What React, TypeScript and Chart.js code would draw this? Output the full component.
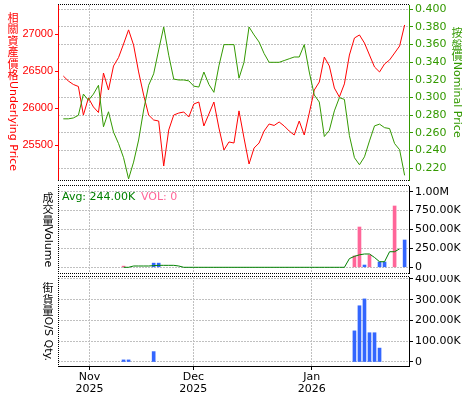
import React, { useEffect, useRef } from 'react';
import { Chart, registerables } from 'chart.js';

Chart.register(...registerables);

// ---------- data ----------
const monthTickIndex = [5.2, 25.9, 49.5];
const monthLabels = [['Nov', '2025'], ['Dec', '2025'], ['Jan', '2026']];

const underlyingPrice = [
  26436, 26369, 26322, 26295, 25909, 26139, 26018, 25943, 26477, 26247,
  26572, 26686, 26869, 27060, 26855, 26491, 26180, 25909, 25842, 25828,
  25220, 25707, 25909, 25936, 25950, 25882, 26058, 26085, 25761, 25923,
  26085, 25734, 25436, 25545, 25531, 25965, 25599, 25247, 25463, 25531,
  25693, 25788, 25768, 25815, 25761, 25693, 25639, 25828, 25639, 25936,
  26247, 26355, 26693, 26572, 26274, 26153, 26330, 26720, 26950, 26991,
  26882, 26720, 26558, 26491, 26599, 26653, 26747, 26842, 27126,
];

const nominalPrice = [
  0.276, 0.276, 0.277, 0.280, 0.304, 0.297, 0.304, 0.314, 0.267, 0.284,
  0.261, 0.248, 0.232, 0.208, 0.227, 0.252, 0.286, 0.314, 0.327, 0.354,
  0.380, 0.348, 0.321, 0.320, 0.320, 0.319, 0.313, 0.312, 0.329, 0.315,
  0.306, 0.336, 0.360, 0.360, 0.360, 0.322, 0.340, 0.380, 0.371, 0.363,
  0.350, 0.340, 0.340, 0.340, 0.342, 0.344, 0.346, 0.346, 0.360, 0.329,
  0.303, 0.295, 0.256, 0.263, 0.285, 0.300, 0.298, 0.257, 0.232, 0.224,
  0.233, 0.251, 0.268, 0.270, 0.266, 0.265, 0.248, 0.241, 0.212,
];

const volumeUpDays = [12, 58, 59, 61, 66];
const volumeUpValues = [15000, 150000, 533000, 163000, 811000];
const volumeDownDays = [18, 19, 60, 63, 64, 68];
const volumeDownValues = [55000, 55000, 30000, 70000, 70000, 361000];

const avgVolumeStart = 12;
const avgVolume = [
  0, 0, 17000, 17000, 17000, 17000, 22000, 26000, 26000, 26000, 26000, 17000, 0,
  0, 0, 0, 0, 0, 0, 0, 0, 0, 0, 0, 0, 0, 0, 0, 0, 0, 0, 0, 0, 0, 0, 0, 0, 0, 0, 0, 0, 0, 0, 0, 0,
  115000, 145000, 165000, 176000, 176000, 130000, 74000, 74000, 206000, 206000, 244000,
];
const avgText = 'Avg: 244.00K';
const volText = 'VOL: 0';

const osDays = [12, 13, 18, 58, 59, 60, 61, 62, 63];
const osValues = [10000, 10000, 50000, 150000, 271000, 304000, 141000, 141000, 67000];

const leftTicks = [25500, 26000, 26500, 27000];
const rightTicks = [0.22, 0.24, 0.26, 0.28, 0.3, 0.32, 0.34, 0.36, 0.38, 0.4];
const volumeTicks = [0, 250000, 500000, 750000, 1000000];
const osTicks = [0, 100000, 200000, 300000, 400000];

// ---------- style ----------
const X_MIN = -1.06;
const X_MAX = 68.87;
const RED = '#ff0000';
const GREEN = '#339900';
const PINK = '#ff6699';
const BLUE = '#3366ff';
const AVG_GREEN = '#008000';
const GRID = '#c0c0c0';
const FAM = '"DejaVu Sans", "Noto Sans CJK TC", sans-serif';
const LEFT_FAM = '"Liberation Sans", "Noto Sans CJK TC", sans-serif';
const CJK_FONT = '11px "Noto Sans CJK TC"';
const CJK_ADV = 11.5;

const fmtK = (v: number) => {
  if (v === 0) return '0';
  if (v >= 1e6) return (v / 1e6).toFixed(2) + 'M';
  return (v / 1e3).toFixed(2) + 'K';
};

const setTicks = (vals: number[]) => (s: any) => {
  s.ticks = vals.map((v) => ({ value: v }));
};
const fixWidth = (w: number) => (s: any) => {
  s.width = w;
  s.paddingTop = 0;
  s.paddingBottom = 0;
};
const fixHeight = (h: number) => (s: any) => {
  s.height = h;
  s.paddingLeft = 0;
  s.paddingRight = 0;
};

const isCJK = (ch: string) => /[\u3000-\u9fff\uf900-\ufaff\uff00-\uffef]/.test(ch);

function splitRuns(text: string) {
  const runs: { cjk: boolean; s: string }[] = [];
  for (const ch of Array.from(text)) {
    const c = isCJK(ch);
    const last = runs[runs.length - 1];
    if (last && last.cjk === c) last.s += ch;
    else runs.push({ cjk: c, s: ch });
  }
  return runs;
}

function drawVertical(
  ctx: CanvasRenderingContext2D,
  text: string,
  cx: number,
  cy: number,
  font: string,
  color: string
) {
  ctx.save();
  ctx.fillStyle = color;
  const runs = splitRuns(text);
  let total = 0;
  ctx.font = font;
  for (const r of runs) total += r.cjk ? Array.from(r.s).length * CJK_ADV : ctx.measureText(r.s).width;
  let y = cy - total / 2;
  for (const r of runs) {
    if (r.cjk) {
      ctx.font = CJK_FONT;
      for (const ch of Array.from(r.s)) {
        ctx.textAlign = 'center';
        ctx.textBaseline = 'middle';
        ctx.fillText(ch, cx, y + CJK_ADV / 2);
        y += CJK_ADV;
      }
    } else {
      ctx.font = font;
      const w = ctx.measureText(r.s).width;
      ctx.save();
      ctx.translate(cx, y);
      ctx.rotate(Math.PI / 2);
      ctx.textAlign = 'left';
      ctx.textBaseline = 'middle';
      ctx.fillText(r.s, 0, 0);
      ctx.restore();
      y += w;
    }
  }
  ctx.restore();
}

function dotted(ctx: CanvasRenderingContext2D, x1: number, y1: number, x2: number, y2: number) {
  ctx.beginPath();
  ctx.moveTo(x1, y1);
  ctx.lineTo(x2, y2);
  ctx.stroke();
}

const framePlugin = (id: string, sides: { top?: boolean; bottom?: boolean; left?: boolean }) => ({
  id,
  afterDraw(chart: any) {
    const { ctx, chartArea: a } = chart;
    ctx.save();
    ctx.strokeStyle = '#000';
    ctx.lineWidth = 1;
    ctx.setLineDash([1, 1]);
    if (sides.top) dotted(ctx, a.left, Math.round(a.top) - 0.5, a.right + 1, Math.round(a.top) - 0.5);
    if (sides.bottom) dotted(ctx, a.left, Math.round(a.bottom) + 0.5, a.right + 1, Math.round(a.bottom) + 0.5);
    if (sides.left) dotted(ctx, Math.round(a.left) + 0.5, a.top - 1, Math.round(a.left) + 0.5, a.bottom + 1);
    ctx.restore();
  },
});

const titlePlugin = (
  id: string,
  items: { text: string; cx: number; dy: number; color: string }[]
) => ({
  id,
  afterDraw(chart: any) {
    const { ctx, chartArea: a } = chart;
    const mid = (a.top + a.bottom) / 2;
    for (const it of items) drawVertical(ctx, it.text, it.cx, mid + it.dy, '11px ' + FAM, it.color);
  },
});

const hiddenX = () => ({
  type: 'linear' as const,
  min: X_MIN,
  max: X_MAX,
  offset: false,
  afterBuildTicks: setTicks(monthTickIndex),
  afterFit: fixHeight(0),
  ticks: { display: false },
  grid: { color: GRID, drawTicks: false, lineWidth: 1, offset: false },
  border: { display: false, dash: [2, 1] },
});

const rightAxis = (min: number, max: number, ticks: number[], color: string, cb: (v: number) => string) => ({
  type: 'linear' as const,
  position: 'right' as const,
  min,
  max,
  afterBuildTicks: setTicks(ticks),
  afterFit: fixWidth(66),
  ticks: { color, font: { family: FAM, size: 11 }, padding: 2, callback: (v: any) => cb(Number(v)) },
  grid: { color: GRID, tickColor: color, tickLength: 4, lineWidth: 1 },
  border: { color, width: 1, dash: [2, 1] },
});

const baseOptions = {
  responsive: false,
  animation: false as const,
  devicePixelRatio: 1,
  events: [] as any[],
  plugins: { legend: { display: false }, tooltip: { enabled: false } },
};

export default function App() {
  const r1 = useRef<HTMLCanvasElement>(null);
  const r2 = useRef<HTMLCanvasElement>(null);
  const r3 = useRef<HTMLCanvasElement>(null);

  useEffect(() => {
    Chart.defaults.font.family = FAM;
    Chart.defaults.font.size = 11;

    const c1 = new Chart(r1.current!, {
      type: 'line',
      data: {
        datasets: [
          {
            data: nominalPrice.map((y, i) => ({ x: i, y })),
            yAxisID: 'yR',
            borderColor: GREEN,
            borderWidth: 1,
            pointRadius: 0,
            tension: 0,
          },
          {
            data: underlyingPrice.map((y, i) => ({ x: i, y })),
            yAxisID: 'yL',
            borderColor: RED,
            borderWidth: 1,
            pointRadius: 0,
            tension: 0,
          },
        ],
      },
      options: {
        ...baseOptions,
        layout: { padding: { top: 5, bottom: 3, left: 0, right: 0 } },
        scales: {
          x: hiddenX(),
          yL: {
            type: 'linear',
            position: 'left',
            min: 25031,
            max: 27396,
            afterBuildTicks: setTicks(leftTicks),
            afterFit: fixWidth(58),
            ticks: { color: RED, font: { family: LEFT_FAM, size: 11 }, padding: 2, callback: (v: any) => String(v) },
            grid: { drawOnChartArea: false, tickColor: RED, tickLength: 3 },
            border: { color: RED, width: 1 },
          },
          yR: rightAxis(0.20676, 0.40487, rightTicks, GREEN, (v) => v.toFixed(3)),
        },
      } as any,
      plugins: [
        framePlugin('frame1', { top: true, bottom: true }),
        titlePlugin('title1', [
          { text: '相關資產價格Underlying Price', cx: 13, dy: -1, color: RED },
          { text: '按盤價Nominal Price', cx: 457, dy: -10, color: GREEN },
        ]),
      ],
    });

    const c2 = new Chart(r2.current!, {
      type: 'bar',
      data: {
        datasets: [
          {
            type: 'line',
            data: avgVolume.map((y, i) => ({ x: avgVolumeStart + i, y })),
            borderColor: AVG_GREEN,
            borderWidth: 1,
            pointRadius: 0,
            tension: 0,
            order: 0,
          } as any,
          {
            data: volumeUpDays.map((d, j) => ({ x: d, y: volumeUpValues[j] })),
            backgroundColor: PINK,
            barThickness: 3,
            grouped: false,
            borderWidth: 0,
            order: 1,
          },
          {
            data: volumeDownDays.map((d, j) => ({ x: d, y: volumeDownValues[j] })),
            backgroundColor: BLUE,
            barThickness: 3,
            grouped: false,
            borderWidth: 0,
            order: 1,
          },
        ],
      },
      options: {
        ...baseOptions,
        layout: { padding: { top: 3, bottom: 2, left: 58, right: 0 } },
        scales: {
          x: hiddenX(),
          y: rightAxis(-75400, 1075400, volumeTicks, '#000', fmtK),
        },
      } as any,
      plugins: [
        framePlugin('frame2', { top: true, bottom: true, left: true }),
        titlePlugin('title2', [{ text: '成交量Volume', cx: 48, dy: 0, color: '#000' }]),
        {
          id: 'avgText',
          afterDraw(chart: any) {
            const { ctx, chartArea: a } = chart;
            ctx.save();
            ctx.font = '11px ' + FAM;
            ctx.textAlign = 'left';
            ctx.textBaseline = 'alphabetic';
            ctx.fillStyle = AVG_GREEN;
            ctx.fillText(avgText, a.left + 4, a.top + 13.5);
            ctx.fillStyle = PINK;
            ctx.fillText(volText, a.left + 83, a.top + 13.5);
            ctx.restore();
          },
        },
      ],
    });

    const c3 = new Chart(r3.current!, {
      type: 'bar',
      data: {
        datasets: [
          {
            data: osDays.map((d, j) => ({ x: d, y: osValues[j] })),
            backgroundColor: BLUE,
            barThickness: 3,
            borderWidth: 0,
          },
        ],
      },
      options: {
        ...baseOptions,
        layout: { padding: { top: 2, bottom: 0, left: 58, right: 0 } },
        scales: {
          x: {
            type: 'linear',
            min: X_MIN,
            max: X_MAX,
            offset: false,
            afterBuildTicks: setTicks(monthTickIndex),
            afterFit: fixHeight(34),
            ticks: {
              color: '#000',
              font: { family: FAM, size: 11, lineHeight: 1.1 },
              padding: 1,
              maxRotation: 0,
              autoSkip: false,
              callback: (_v: any, i: number) => monthLabels[i],
            },
            grid: { color: GRID, tickColor: '#000', tickLength: 4, lineWidth: 1, offset: false },
            border: { color: '#000', width: 1, dash: [2, 1] },
          },
          y: rightAxis(-19300, 409600, osTicks, '#000', fmtK),
        },
      } as any,
      plugins: [
        framePlugin('frame3', { top: true, left: true }),
        titlePlugin('title3', [{ text: '街貨量O/S Qty.', cx: 48, dy: 0, color: '#000' }]),
      ],
    });

    return () => {
      c1.destroy();
      c2.destroy();
      c3.destroy();
    };
  }, []);

  return (
    <div style={{ position: 'absolute', left: 0, top: 0, width: 475, height: 400, background: '#fff' }}>
      <canvas ref={r1} width={475} height={183} style={{ position: 'absolute', left: 0, top: 0 }} />
      <canvas ref={r2} width={475} height={92} style={{ position: 'absolute', left: 0, top: 183 }} />
      <canvas ref={r3} width={475} height={125} style={{ position: 'absolute', left: 0, top: 275 }} />
    </div>
  );
}
